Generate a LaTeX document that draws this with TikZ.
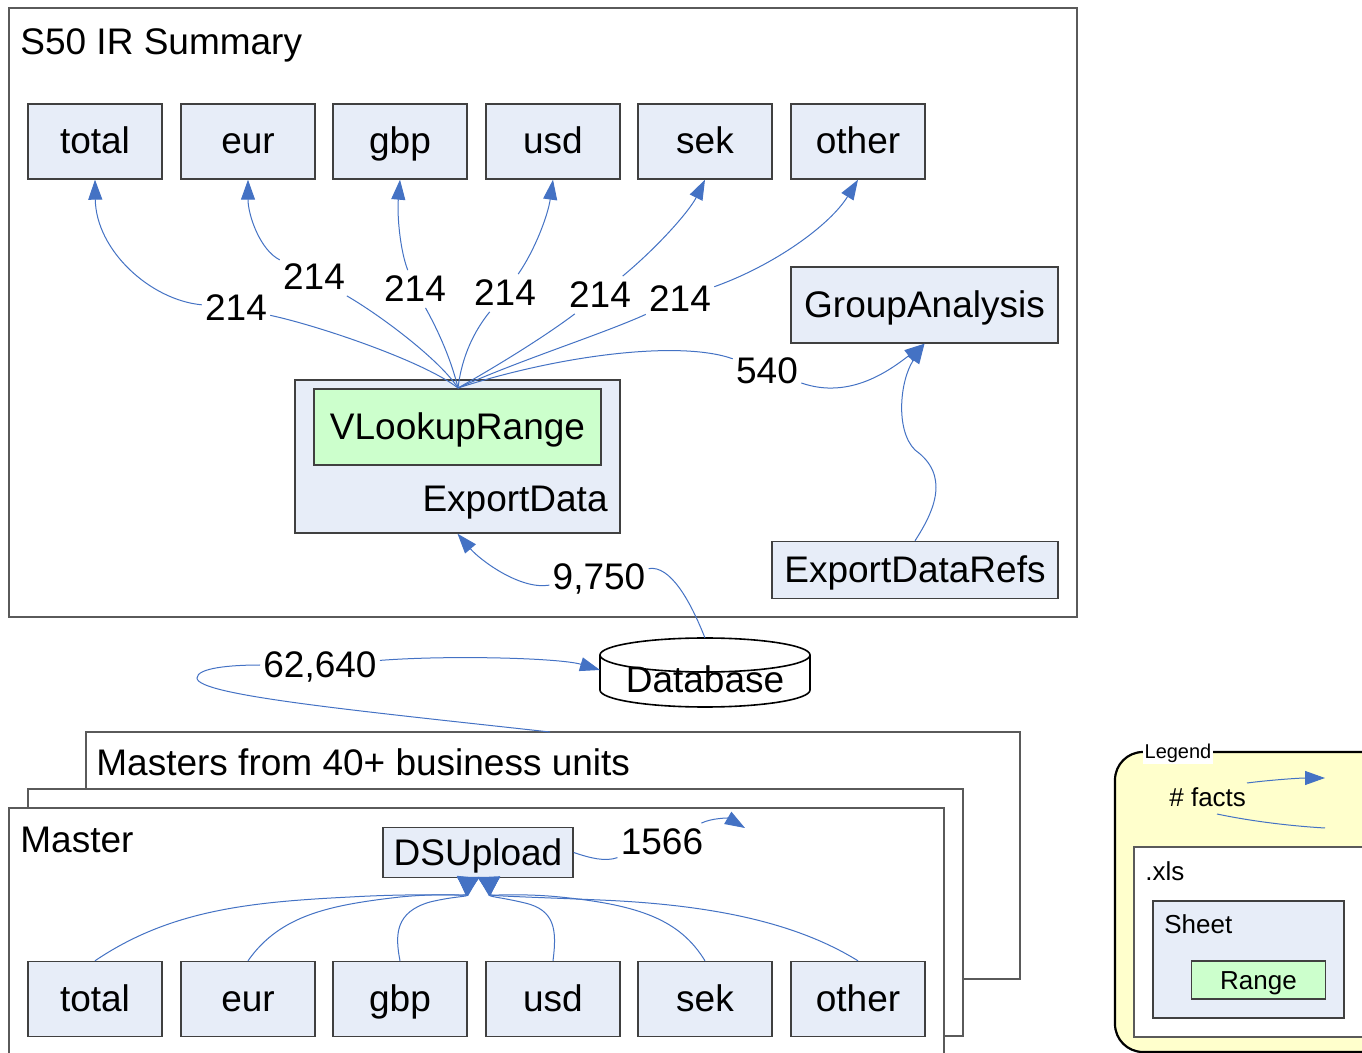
\documentclass[tikz,border=0pt]{standalone}
\usepackage{fontspec}
\setmainfont{Liberation Sans}
\usetikzlibrary{arrows.meta}
\definecolor{boxblue}{RGB}{231,237,248}
\definecolor{rangegreen}{RGB}{204,255,204}
\definecolor{edgeblue}{RGB}{68,114,196}
\definecolor{bordergray}{RGB}{64,64,64}
\definecolor{framegray}{RGB}{90,90,90}
\definecolor{legyellow}{RGB}{255,255,204}
\begin{document}
\begin{tikzpicture}[x=0.5pt,y=-0.5pt,
  bigfont/.style={font=\fontsize{18.5}{21}\selectfont},
  smallfont/.style={font=\fontsize{13}{15}\selectfont},
  cell/.style={draw=bordergray, fill=boxblue, line width=0.7pt, inner sep=0pt, bigfont, text height=14pt, text depth=1.5pt},
  cur/.style={cell, minimum width=67pt, minimum height=37.5pt},
  frame/.style={draw=framegray, line width=0.8pt, fill=white},
  lbl/.style={bigfont, inner sep=1.5pt, text height=14pt, text depth=1.5pt},
  edge/.style={draw=edgeblue, line width=0.5pt},
  arr/.style={edge, -{Triangle[length=10pt,width=7pt]}},
  rarr/.style={edge, -{Triangle[length=9.5pt,width=11pt,reversed]}}
]
\useasboundingbox (0,0) rectangle (1362,1053);

% ---------- containers ----------
\draw[frame] (9,8) rectangle (1077,617);
\node[bigfont, anchor=base west, inner sep=0pt] (s50title) at (20,55) {S50 IR Summary};

\draw[frame] (86,732) rectangle (1020,979);
\draw[frame] (28,789) rectangle (963,1036);
\draw[frame] (9,808) rectangle (944,1090);
\node[bigfont, anchor=base west, inner sep=0pt] (masterstitle) at (96,776) {Masters from 40+ business units};
\node[bigfont, anchor=base west, inner sep=0pt] (mastertitle) at (20,853) {Master};

% ---------- legend ----------
\draw[black, line width=1.1pt, fill=legyellow, rounded corners=14pt] (1115,752) rectangle (1430,1052);
\node[font=\fontsize{10}{12}\selectfont, fill=white, inner sep=0.6pt, anchor=base] (legendtitle) at (1178,759) {Legend};
\node[smallfont, anchor=base west, inner sep=0pt] (facts) at (1169,806) {\# facts};
\coordinate (la1) at (1247,783);
\coordinate (la2) at (1325,778);
\coordinate (lb1) at (1217,814);
\coordinate (lb2) at (1325,828);
\draw[arr] (la1) .. controls (1270,780) and (1300,778) .. (la2);
\draw[edge] (lb1) .. controls (1250,821) and (1290,826) .. (lb2);
\draw[draw=framegray, line width=0.8pt, fill=white] (1134,847) rectangle (1430,1037);
\node[smallfont, anchor=base west, inner sep=0pt] (xls) at (1145,880) {.xls};
\draw[draw=bordergray, line width=0.7pt, fill=boxblue] (1153,901) rectangle (1344,1018);
\node[smallfont, anchor=base west, inner sep=0pt] (sheet) at (1164,934) {Sheet};
\node[draw=bordergray, fill=rangegreen, line width=0.7pt, smallfont, inner sep=0pt,
      minimum width=67pt, minimum height=19pt, text height=10pt, text depth=1pt] (range) at (1258.5,980) {Range};

% ---------- top currency boxes ----------
\node[cur] (ttotal) at (95,141.5) {total};
\node[cur] (teur)   at (248,141.5) {eur};
\node[cur] (tgbp)   at (400,141.5) {gbp};
\node[cur] (tusd)   at (553,141.5) {usd};
\node[cur] (tsek)   at (705,141.5) {sek};
\node[cur] (tother) at (858,141.5) {other};

\node[cell, minimum width=133.5pt, minimum height=38pt] (ga) at (924.5,305) {GroupAnalysis};
\node[cell, minimum width=162.5pt, minimum height=76.5pt] (ed) at (457.5,456.5) {};
\node[cell, fill=rangegreen, minimum width=143.5pt, minimum height=38pt] (vl) at (457.5,427) {VLookupRange};
\node[bigfont, anchor=base east, inner sep=0pt] (edlabel) at (608,512) {ExportData};
\node[cell, minimum width=143pt, minimum height=28.5pt] (edr) at (915,570) {ExportDataRefs};

% ---------- database ----------
\draw[black, line width=0.8pt, fill=white] (600,655) -- (600,690) arc[start angle=180, end angle=0, x radius=105, y radius=17] -- (810,655);
\draw[black, line width=0.8pt, fill=white] (705,655) ellipse[x radius=105, y radius=17];
\node[bigfont, anchor=base, inner sep=0pt] (db) at (705,693) {Database};
\coordinate (dbtop) at (705,638);
\coordinate (dbleft) at (600,670);

% ---------- bottom ----------
\node[cell, minimum width=95pt, minimum height=25pt] (ds) at (478,852.5) {DSUpload};
\node[cur] (btotal) at (95,999) {total};
\node[cur] (beur)   at (248,999) {eur};
\node[cur] (bgbp)   at (400,999) {gbp};
\node[cur] (busd)   at (553,999) {usd};
\node[cur] (bsek)   at (705,999) {sek};
\node[cur] (bother) at (858,999) {other};
\coordinate (dsL) at (468,877);
\coordinate (dsR) at (489,877);
\coordinate (dsout) at (745,828);
\coordinate (mtop) at (550,732);
\coordinate (fan) at (458,388);

% ---------- edge labels ----------
\node[lbl] (l1) at (236,308) {214};
\node[lbl] (l2) at (314,277) {214};
\node[lbl] (l3) at (415,289) {214};
\node[lbl] (l4) at (505,293) {214};
\node[lbl] (l5) at (600,295) {214};
\node[lbl] (l6) at (680,299) {214};
\node[lbl] (l7) at (767,371) {540};
\node[lbl] (l9) at (599,577) {9,750};
\node[lbl] (l10) at (320,665) {62,640};
\node[lbl] (l11) at (662,842) {1566};

% ---------- edges (top) ----------
\draw[edge] (fan) .. controls (425,362) and (320,326) .. (l1);
\draw[arr] (l1) .. controls (150,300) and (96,250) .. (ttotal.south);
\draw[edge] (fan) .. controls (440,360) and (380,315) .. (l2);
\draw[arr] (l2) .. controls (260,250) and (248,215) .. (teur.south);
\draw[edge] (fan) .. controls (450,355) and (435,325) .. (l3);
\draw[arr] (l3) .. controls (400,250) and (397,215) .. (tgbp.south);
\draw[edge] (fan) .. controls (462,355) and (475,330) .. (l4);
\draw[arr] (l4) .. controls (535,250) and (548,215) .. (tusd.south);
\draw[edge] (fan) .. controls (490,370) and (540,340) .. (l5);
\draw[arr] (l5) .. controls (660,245) and (690,210) .. (tsek.south);
\draw[edge] (fan) .. controls (520,360) and (600,335) .. (l6);
\draw[arr] (l6) .. controls (775,265) and (830,225) .. (tother.south);
\draw[edge] (fan) .. controls (560,355) and (680,340) .. (l7);
\draw[arr] (l7) .. controls (850,400) and (890,370) .. (ga.south);
\draw[arr] (edr.north) .. controls (935,510) and (950,475) .. (915,450) .. controls (895,430) and (900,380) .. (ga.south);
\draw[edge] (dbtop) .. controls (690,600) and (670,565) .. (l9);
\draw[arr] (l9) .. controls (520,590) and (480,560) .. (ed.south);
\draw[edge] (mtop) .. controls (350,710) and (197,695) .. (197,678) .. controls (197,668) and (230,665) .. (l10);
\draw[arr] (l10) .. controls (450,655) and (560,658) .. (dbleft);
\draw[edge] (ds.east) .. controls (590,858) and (605,862) .. (l11);
\draw[arr] (l11) .. controls (712,818) and (728,818) .. (dsout);

% ---------- edges (bottom) ----------
\draw[rarr] (btotal.north) .. controls (170,910) and (250,902) .. (350,897) .. controls (420,893) and (466,896) .. (dsL);
\draw[rarr] (beur.north) .. controls (280,915) and (330,905) .. (400,897) .. controls (440,893) and (467,896) .. (dsL);
\draw[rarr] (bgbp.north) .. controls (395,935) and (395,912) .. (430,902) .. controls (455,896) and (468,897) .. (dsL);
\draw[rarr] (busd.north) .. controls (557,930) and (555,910) .. (525,903) .. controls (500,897) and (489,897) .. (dsR);
\draw[rarr] (bsek.north) .. controls (680,920) and (640,905) .. (560,897) .. controls (520,893) and (490,896) .. (dsR);
\draw[rarr] (bother.north) .. controls (800,925) and (720,905) .. (600,900) .. controls (530,897) and (490,896) .. (dsR);
\end{tikzpicture}
\end{document}
